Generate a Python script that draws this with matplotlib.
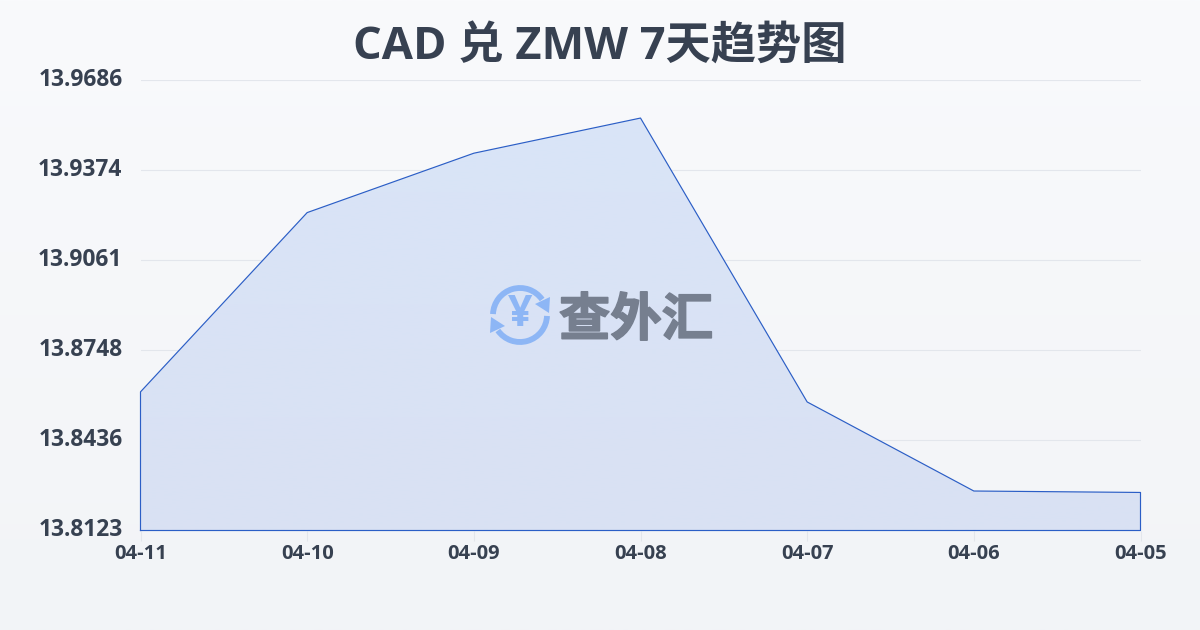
#!/usr/bin/env python
# -*- encoding: utf-8 -*-
import matplotlib
matplotlib.use("Agg")
import matplotlib.pyplot as plt
import matplotlib.patheffects as pe
import matplotlib.transforms as mtrans
import numpy as np
from matplotlib.patches import Arc, Polygon

plt.rcParams['font.family'] = ['Open Sans', 'Noto Sans CJK SC', 'DejaVu Sans']

dates = ["04-11", "04-10", "04-09", "04-08", "04-07", "04-06", "04-05"]
rates = [13.8604, 13.9226, 13.9432, 13.9554, 13.8569, 13.8260, 13.8255]
y_ticks = [13.8123, 13.8436, 13.8748, 13.9061, 13.9374, 13.9686]
y_labels = ["13.8123", "13.8436", "13.8748", "13.9061", "13.9374", "13.9686"]
title = "CAD 兑 ZMW 7天趋势图"
brand = "查外汇"

W, H = 1200, 630
TEXT = "#374151"

fig = plt.figure(figsize=(W / 100, H / 100), dpi=100)

# page background, light vertical gradient
bg = fig.add_axes([0, 0, 1, 1], zorder=0)
bg.imshow(np.linspace(0, 1, 256).reshape(-1, 1), aspect="auto", extent=[0, 1, 0, 1],
          cmap=matplotlib.colors.LinearSegmentedColormap.from_list("bg", ["#f9fafc", "#f2f4f7"]))
bg.axis("off")

ax = fig.add_axes([140.5 / W, 1 - 530.5 / H, 1000 / W, 450.5 / H], zorder=1)
ax.patch.set_alpha(0)
x = np.arange(len(dates))

ax.yaxis.grid(True, color="#e3e6ec", linewidth=0.8, zorder=4)

poly = ax.fill_between(x, rates, y_ticks[0], color="none", zorder=2)
grad = ax.imshow(np.linspace(0, 1, 256).reshape(-1, 1), aspect="auto",
                 extent=[0, len(dates) - 1, y_ticks[0], y_ticks[-1]], zorder=2, origin="upper",
                 cmap=matplotlib.colors.LinearSegmentedColormap.from_list("fill", ["#d9e5f8", "#d9e1f3"]))
grad.set_clip_path(poly.get_paths()[0], ax.transData)
ax.set_xlim(0, len(dates) - 1)
ax.set_ylim(y_ticks[0], y_ticks[-1])

# outline of the area, closed down to the baseline
ax.plot(np.r_[x[0], x, x[-1], x[0]], np.r_[y_ticks[0], rates, y_ticks[0], y_ticks[0]],
        color="#2b5ec6", linewidth=0.85, zorder=3, clip_on=False)

for s in ax.spines.values():
    s.set_visible(False)
ax.set_xticks(x, dates)
ax.set_yticks(y_ticks, y_labels)
ax.tick_params(axis="x", length=7, width=0.8, color="#e3e6ec", pad=2.5, labelsize=14.5, labelcolor=TEXT)
ax.tick_params(axis="y", length=0, pad=13, labelsize=16.4, labelcolor=TEXT)
up = mtrans.ScaledTranslation(0, 3 / 100, fig.dpi_scale_trans)
for lab in ax.get_yticklabels():
    lab.set_fontweight("bold")
    lab.set_transform(lab.get_transform() + up)
for lab in ax.get_xticklabels():
    lab.set_fontweight("bold")

fig.text(600 / W, 1 - 48 / H, title, ha="center", va="center", fontsize=32.6,
         fontweight="bold", color=TEXT)

# watermark logo, in pixel coordinates
ov = fig.add_axes([0, 0, 1, 1], zorder=4)
ov.set_xlim(0, W)
ov.set_ylim(H, 0)
ov.axis("off")
blue = "#8db6f5"
cx, cy = 520, 315
ov.add_patch(Arc((cx, cy), 54, 54, theta1=182, theta2=325, color=blue, linewidth=4.2))
ov.add_patch(Arc((cx, cy), 54, 54, theta1=2, theta2=145, color=blue, linewidth=4.2))
ov.add_patch(Polygon([(550, 297), (549, 313), (535, 304)], closed=True, color=blue, lw=0))
ov.add_patch(Polygon([(490, 333), (491, 317), (505, 326)], closed=True, color=blue, lw=0))
ov.text(cx, cy - 1, "¥", ha="center", va="center", fontsize=31, fontweight="bold", color=blue)
ov.text(636, 320, brand, ha="center", va="center", fontsize=37, fontweight="bold",
        color="#767f8f", family=['Noto Sans CJK SC'],
        path_effects=[pe.withStroke(linewidth=1.2, foreground="#767f8f")])

fig.savefig("out.png", dpi=100)
